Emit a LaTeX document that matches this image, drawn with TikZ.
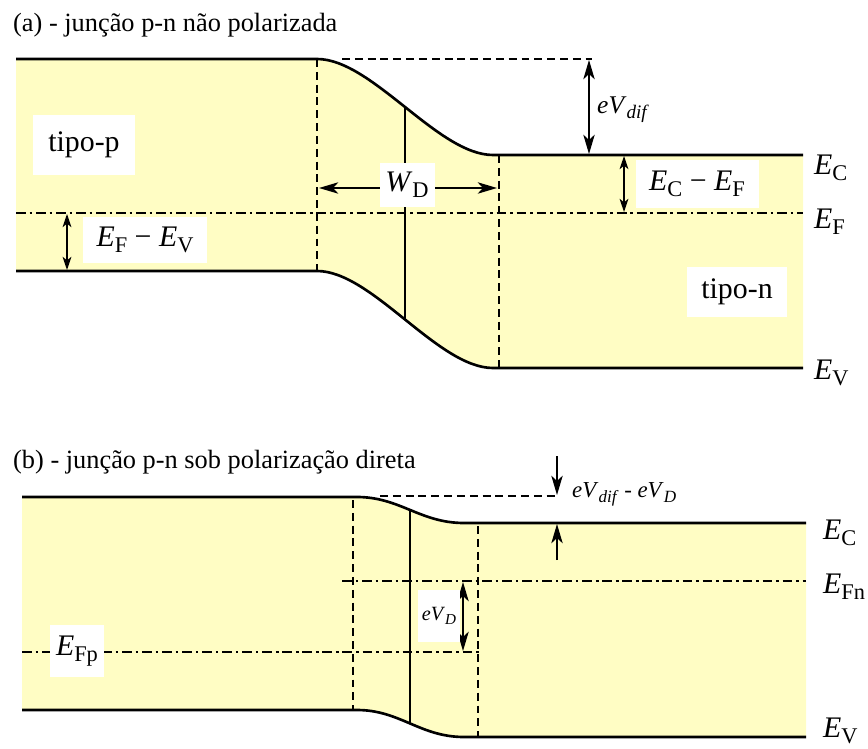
\documentclass[tikz,border=0pt]{standalone}
\usepackage{fontspec}
\setmainfont{Liberation Serif}
\usetikzlibrary{positioning,arrows.meta}

\definecolor{bandfill}{RGB}{255,253,196}
% lowered subscript for the level names
\newcommand{\lsub}[1]{\raisebox{-0.45ex}{\scalebox{0.75}{#1}}}

\tikzset{
  bandedge/.style={line width=1.5pt},
  guide/.style={line width=0.6pt, dash pattern=on 4.5pt off 2.8pt},
  fermi/.style={line width=0.9pt, dash pattern=on 5.5pt off 2.2pt on 1.5pt off 2.2pt},
  bigtip/.style={line width=0.8pt, >={Stealth[length=11pt,width=6.5pt,inset=3pt]}},
  smalltip/.style={line width=0.8pt, >={Stealth[length=7.5pt,width=5pt,inset=2pt]}},
  whitebox/.style={fill=white, inner sep=0pt},
  lbl/.style={font=\fontsize{17}{20}\selectfont},
  heading/.style={font=\fontsize{15}{18}\selectfont, anchor=west},
}

\begin{document}
\begin{tikzpicture}[x=0.02cm, y=-0.02cm]
  \useasboundingbox (0,0) rectangle (868,749);
  % (a) unbiased junction, pixel grid of the original figure
  \begin{scope}
    \node[heading] (ttla) at (7,25) {(a) - junção p-n não polarizada};
    \fill[bandfill] (16,59) -- (317,59) .. controls (372,59) and (438,155) .. (493,155) -- (803,155)
      -- (803,368) -- (493,368) .. controls (438,368) and (372,271) .. (317,271) -- (16,271) -- cycle;
    % band edges
    \draw[bandedge] (16,59) -- (317,59) .. controls (372,59) and (438,155) .. coordinate[pos=0.5] (amidc) (493,155) -- (803,155);
    \draw[bandedge] (16,271) -- (317,271) .. controls (372,271) and (438,368) .. coordinate[pos=0.5] (amidv) (493,368) -- (803,368);
    \draw[line width=0.9pt] (amidc) -- (amidv);
    % Fermi level
    \draw[fermi] (16,213) -- (803,213);
    % depletion region edges
    \draw[guide] (317,59) -- (317,271);
    \draw[guide] (499,155) -- (499,368);
    \draw[guide] (342,59) -- (592,59);
    % W_D
    \coordinate (wl) at (319,188);
    \coordinate (wr) at (497,188);
    \draw[bigtip,<->] (wl) -- (wr);
    \node[whitebox, lbl, minimum width=1.1cm, minimum height=0.9cm] (wd) at (407,185) {\textit{W}\lsub{D}};
    % eV_dif
    \coordinate (difa) at (589,60);
    \coordinate (difb) at (589,154);
    \draw[bigtip,<->] (difa) -- (difb);
    \node[anchor=west, font=\fontsize{14.5}{17}\selectfont] (evdif) at (591,110) {\textit{eV}\lsub{\textit{dif}}};
    % Ec - Ef
    \coordinate (cfa) at (624,156);
    \coordinate (cfb) at (624,212);
    \draw[smalltip,<->] (cfa) -- (cfb);
    \node[whitebox, lbl, minimum width=2.46cm, minimum height=0.96cm] (ecef) at (697,184) {\textit{E}\lsub{C} − \textit{E}\lsub{F}};
    % Ef - Ev
    \coordinate (fva) at (67,214);
    \coordinate (fvb) at (67,270);
    \draw[smalltip,<->] (fva) -- (fvb);
    \node[whitebox, lbl, minimum width=2.48cm, minimum height=0.92cm] (efev) at (145,240) {\textit{E}\lsub{F} − \textit{E}\lsub{V}};
    % regions
    \node[whitebox, lbl, minimum width=2.04cm, minimum height=1.2cm] (tp) at (84,145) {tipo-p};
    \node[whitebox, lbl, minimum width=2.0cm, minimum height=1.0cm] (tn) at (737,292) {tipo-n};
    % level names
    \node[lbl, anchor=west] (eca) at (808,168) {\textit{E}\lsub{C}};
    \node[lbl, anchor=west] (efa) at (808,222) {\textit{E}\lsub{F}};
    \node[lbl, anchor=west] (eva) at (808,373) {\textit{E}\lsub{V}};
  \end{scope}
  % (b) forward bias
  \begin{scope}
    \node[heading] (ttlb) at (7,462) {(b) - junção p-n sob polarização direta};
    \fill[bandfill] (22,497) -- (357,497) .. controls (400,497) and (420,523) .. (464,523) -- (806,523)
      -- (806,737) -- (464,737) .. controls (420,737) and (400,710) .. (357,710) -- (22,710) -- cycle;
    % band edges
    \draw[bandedge] (22,497) -- (357,497) .. controls (400,497) and (420,523) .. coordinate[pos=0.5] (bmidc) (464,523) -- (806,523);
    \draw[bandedge] (22,710) -- (357,710) .. controls (400,710) and (420,737) .. coordinate[pos=0.5] (bmidv) (464,737) -- (806,737);
    \draw[line width=0.9pt] (bmidc) -- (bmidv);
    % quasi Fermi levels
    \draw[fermi] (342,581) -- (806,581);
    \draw[fermi] (22,652) -- (481,652);
    % depletion region edges
    \draw[guide] (353,500) -- (353,710);
    \draw[guide] (478,526) -- (478,737);
    \draw[guide] (380,496) -- (557,496);
    % reduced barrier
    \coordinate (bara) at (557,456);
    \coordinate (barb) at (557,495);
    \coordinate (barc) at (557,560);
    \coordinate (bard) at (557,524);
    \draw[bigtip,->] (bara) -- (barb);
    \draw[bigtip,->] (barc) -- (bard);
    \node[anchor=west, font=\fontsize{13}{16}\selectfont] (evb) at (566,494) {\textit{eV}\lsub{\textit{dif}} - \textit{eV}\lsub{\textit{D}}};
    % eV_D
    \coordinate (vda) at (463,582);
    \coordinate (vdb) at (463,651);
    \draw[bigtip,<->] (vda) -- (vdb);
    \node[whitebox, font=\fontsize{11.5}{14}\selectfont, minimum width=0.84cm, minimum height=1.06cm] (evd) at (439,616) {\textit{eV}\lsub{\textit{D}}};
    \node[whitebox, lbl, minimum width=1.1cm, minimum height=1.04cm] (efp) at (77,651) {\textit{E}\lsub{Fp}};
    % level names
    \node[lbl, anchor=west] (ecb) at (817,533) {\textit{E}\lsub{C}};
    \node[lbl, anchor=west] (efn) at (817,587) {\textit{E}\lsub{Fn}};
    \node[lbl, anchor=west] (evb2) at (817,731) {\textit{E}\lsub{V}};
  \end{scope}
\end{tikzpicture}
\end{document}
